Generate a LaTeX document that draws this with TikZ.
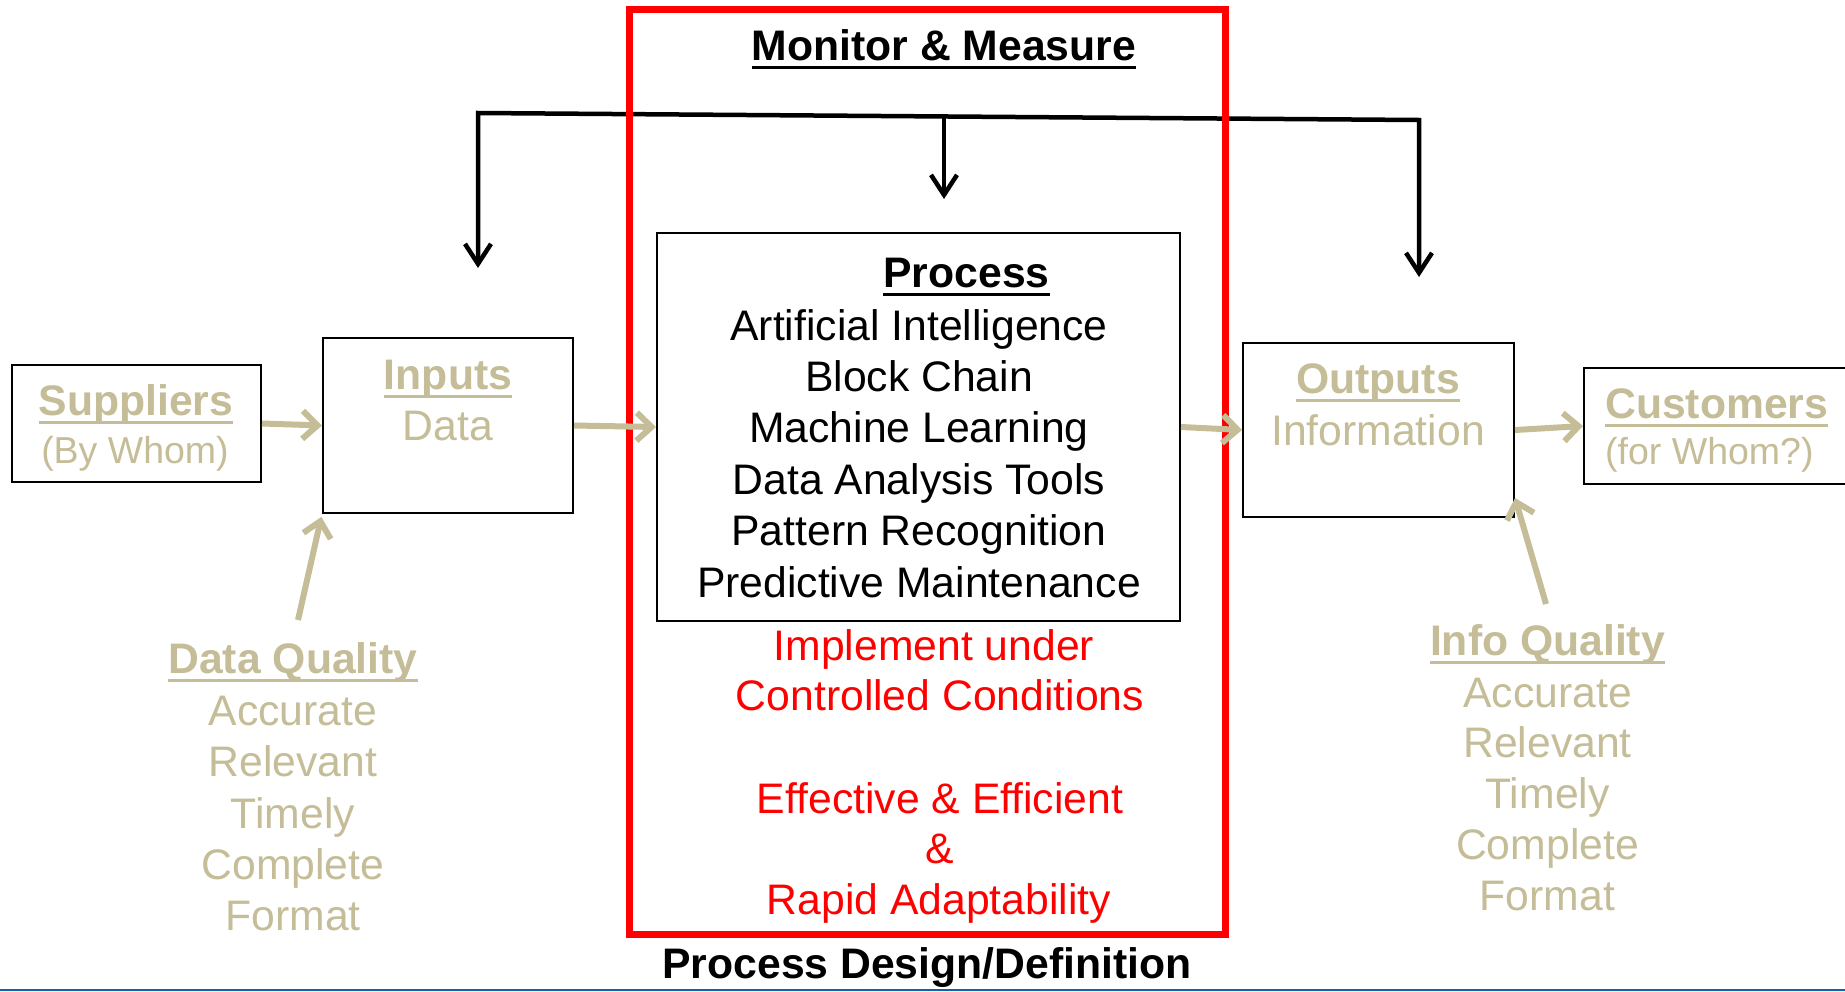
\documentclass[tikz,border=0pt]{standalone}
\usepackage{fontspec}
\setmainfont{Liberation Sans}
\usetikzlibrary{arrows.meta}
\definecolor{tanc}{RGB}{196,189,151}
\definecolor{bluel}{RGB}{20,96,170}
\newcommand\myul[1]{\setbox0=\hbox{#1}\rlap{\rule[-9pt]{\wd0}{3.5pt}}\box0}
\tikzset{
  box/.style={draw, line width=2pt, inner sep=0pt},
  txt/.style={anchor=base, inner sep=0pt, font=\fontsize{42.7pt}{51pt}\selectfont},
  smalltxt/.style={anchor=base, inner sep=0pt, font=\fontsize{37.5pt}{45pt}\selectfont, text=tanc},
  tantxt/.style={txt, text=tanc},
  redtxt/.style={txt, text=red},
  tanarrow/.style={draw=tanc, line width=6pt, -{Straight Barb[length=15pt,width=28pt]}},
  fbarrow/.style={line width=4.5pt, -{Straight Barb[length=20pt,width=26pt]}},
}
\begin{document}
\begin{tikzpicture}[x=1pt,y=-1pt]
\useasboundingbox (0,0) rectangle (1845,991);
\clip (0,0) rectangle (1845,991);
\fill[white] (0,0) rectangle (1845,991);

% boxes
\node[box, minimum width=249.5pt, minimum height=117pt] (sup) at (136.25,423.5) {};
\node[box, minimum width=250pt, minimum height=175pt] (inp) at (448,425.5) {};
\node[box, minimum width=523pt, minimum height=388pt] (proc) at (918.5,427) {};
\node[box, minimum width=271pt, minimum height=174pt] (outp) at (1378.5,430) {};
\node[box, minimum width=276pt, minimum height=116pt] (cust) at (1722,426) {};

% feedback lines
\coordinate (fbL) at (478,268);
\coordinate (fbLt) at (478,113);
\coordinate (fbRt) at (1419,120);
\coordinate (fbR) at (1419,277);
\coordinate (fbM) at (944,116.5);
\coordinate (fbMe) at (944,199);
\draw[line width=4.5pt, {Straight Barb[length=20pt,width=26pt]}-{Straight Barb[length=20pt,width=26pt]}]
  (fbL) -- (fbLt) -- (fbRt) -- (fbR);
\draw[fbarrow] (fbM) -- (fbMe);

% red box
\node[draw=red, line width=7pt, inner sep=0pt, minimum width=595.5pt, minimum height=925pt] (redbox) at (927.25,471.5) {};

% tan arrows
\draw[tanarrow] (sup.east) -- (inp.west);
\draw[tanarrow] (inp.east) -- (proc.west);
\draw[tanarrow] (proc.east) -- (outp.west);
\draw[tanarrow] (outp.east) -- (cust.west);
\coordinate (dqt) at (298,620);
\draw[tanarrow, shorten >=3pt] (dqt) -- (inp.south west);
\coordinate (iqt) at (1546,604);
\draw[tanarrow] (iqt) -- ([yshift=20pt]outp.south east);

% texts
\node[txt] (mm) at (944,60) {\myul{\bfseries Monitor \& Measure}};
\node[txt] (p0) at (966.5,287) {\myul{\bfseries Process}};
\node[txt] (p1) at (919,340) {Artificial Intelligence};
\node[txt] (p2) at (919,391) {Block Chain};
\node[txt] (p3) at (919,442) {Machine Learning};
\node[txt] (p4) at (919,494) {Data Analysis Tools};
\node[txt] (p5) at (919,545) {Pattern Recognition};
\node[txt] (p6) at (919,597) {Predictive Maintenance};

\node[redtxt] (r1) at (934,660) {Implement under};
\node[redtxt] (r2) at (940,710) {Controlled Conditions};
\node[redtxt] (r3) at (940,813) {Effective \& Efficient};
\node[redtxt] (r4) at (940,863) {\&};
\node[redtxt] (r5) at (939,914) {Rapid Adaptability};

\node[txt] (pdd) at (927,978) {\bfseries Process Design/Definition};

\node[tantxt] (s1) at (136,415) {\myul{\bfseries Suppliers}};
\node[smalltxt] (s2) at (135,463) {(By Whom)};
\node[tantxt] (i1) at (448,389) {\myul{\bfseries Inputs}};
\node[tantxt] (i2) at (448,440) {Data};
\node[tantxt] (o1) at (1378,393) {\myul{\bfseries Outputs}};
\node[tantxt] (o2) at (1378,445) {Information};
\node[tantxt, anchor=base west] (c1) at (1605,418) {\myul{\bfseries Customers}};
\node[smalltxt, anchor=base west] (c2) at (1605,464) {(for Whom?)};

\node[tantxt] (dq0) at (293,673) {\myul{\bfseries Data Quality}};
\node[tantxt] (dq1) at (293,725) {Accurate};
\node[tantxt] (dq2) at (293,776) {Relevant};
\node[tantxt] (dq3) at (293,828) {Timely};
\node[tantxt] (dq4) at (293,879) {Complete};
\node[tantxt] (dq5) at (293,930) {Format};

\node[tantxt] (iq0) at (1547.5,655) {\myul{\bfseries Info Quality}};
\node[tantxt] (iq1) at (1547.5,707) {Accurate};
\node[tantxt] (iq2) at (1547.5,757) {Relevant};
\node[tantxt] (iq3) at (1547.5,808) {Timely};
\node[tantxt] (iq4) at (1547.5,859) {Complete};
\node[tantxt] (iq5) at (1547.5,910) {Format};

% bottom rule
\draw[bluel, line width=2pt] (0,990) -- (1845,990);
\end{tikzpicture}
\end{document}
